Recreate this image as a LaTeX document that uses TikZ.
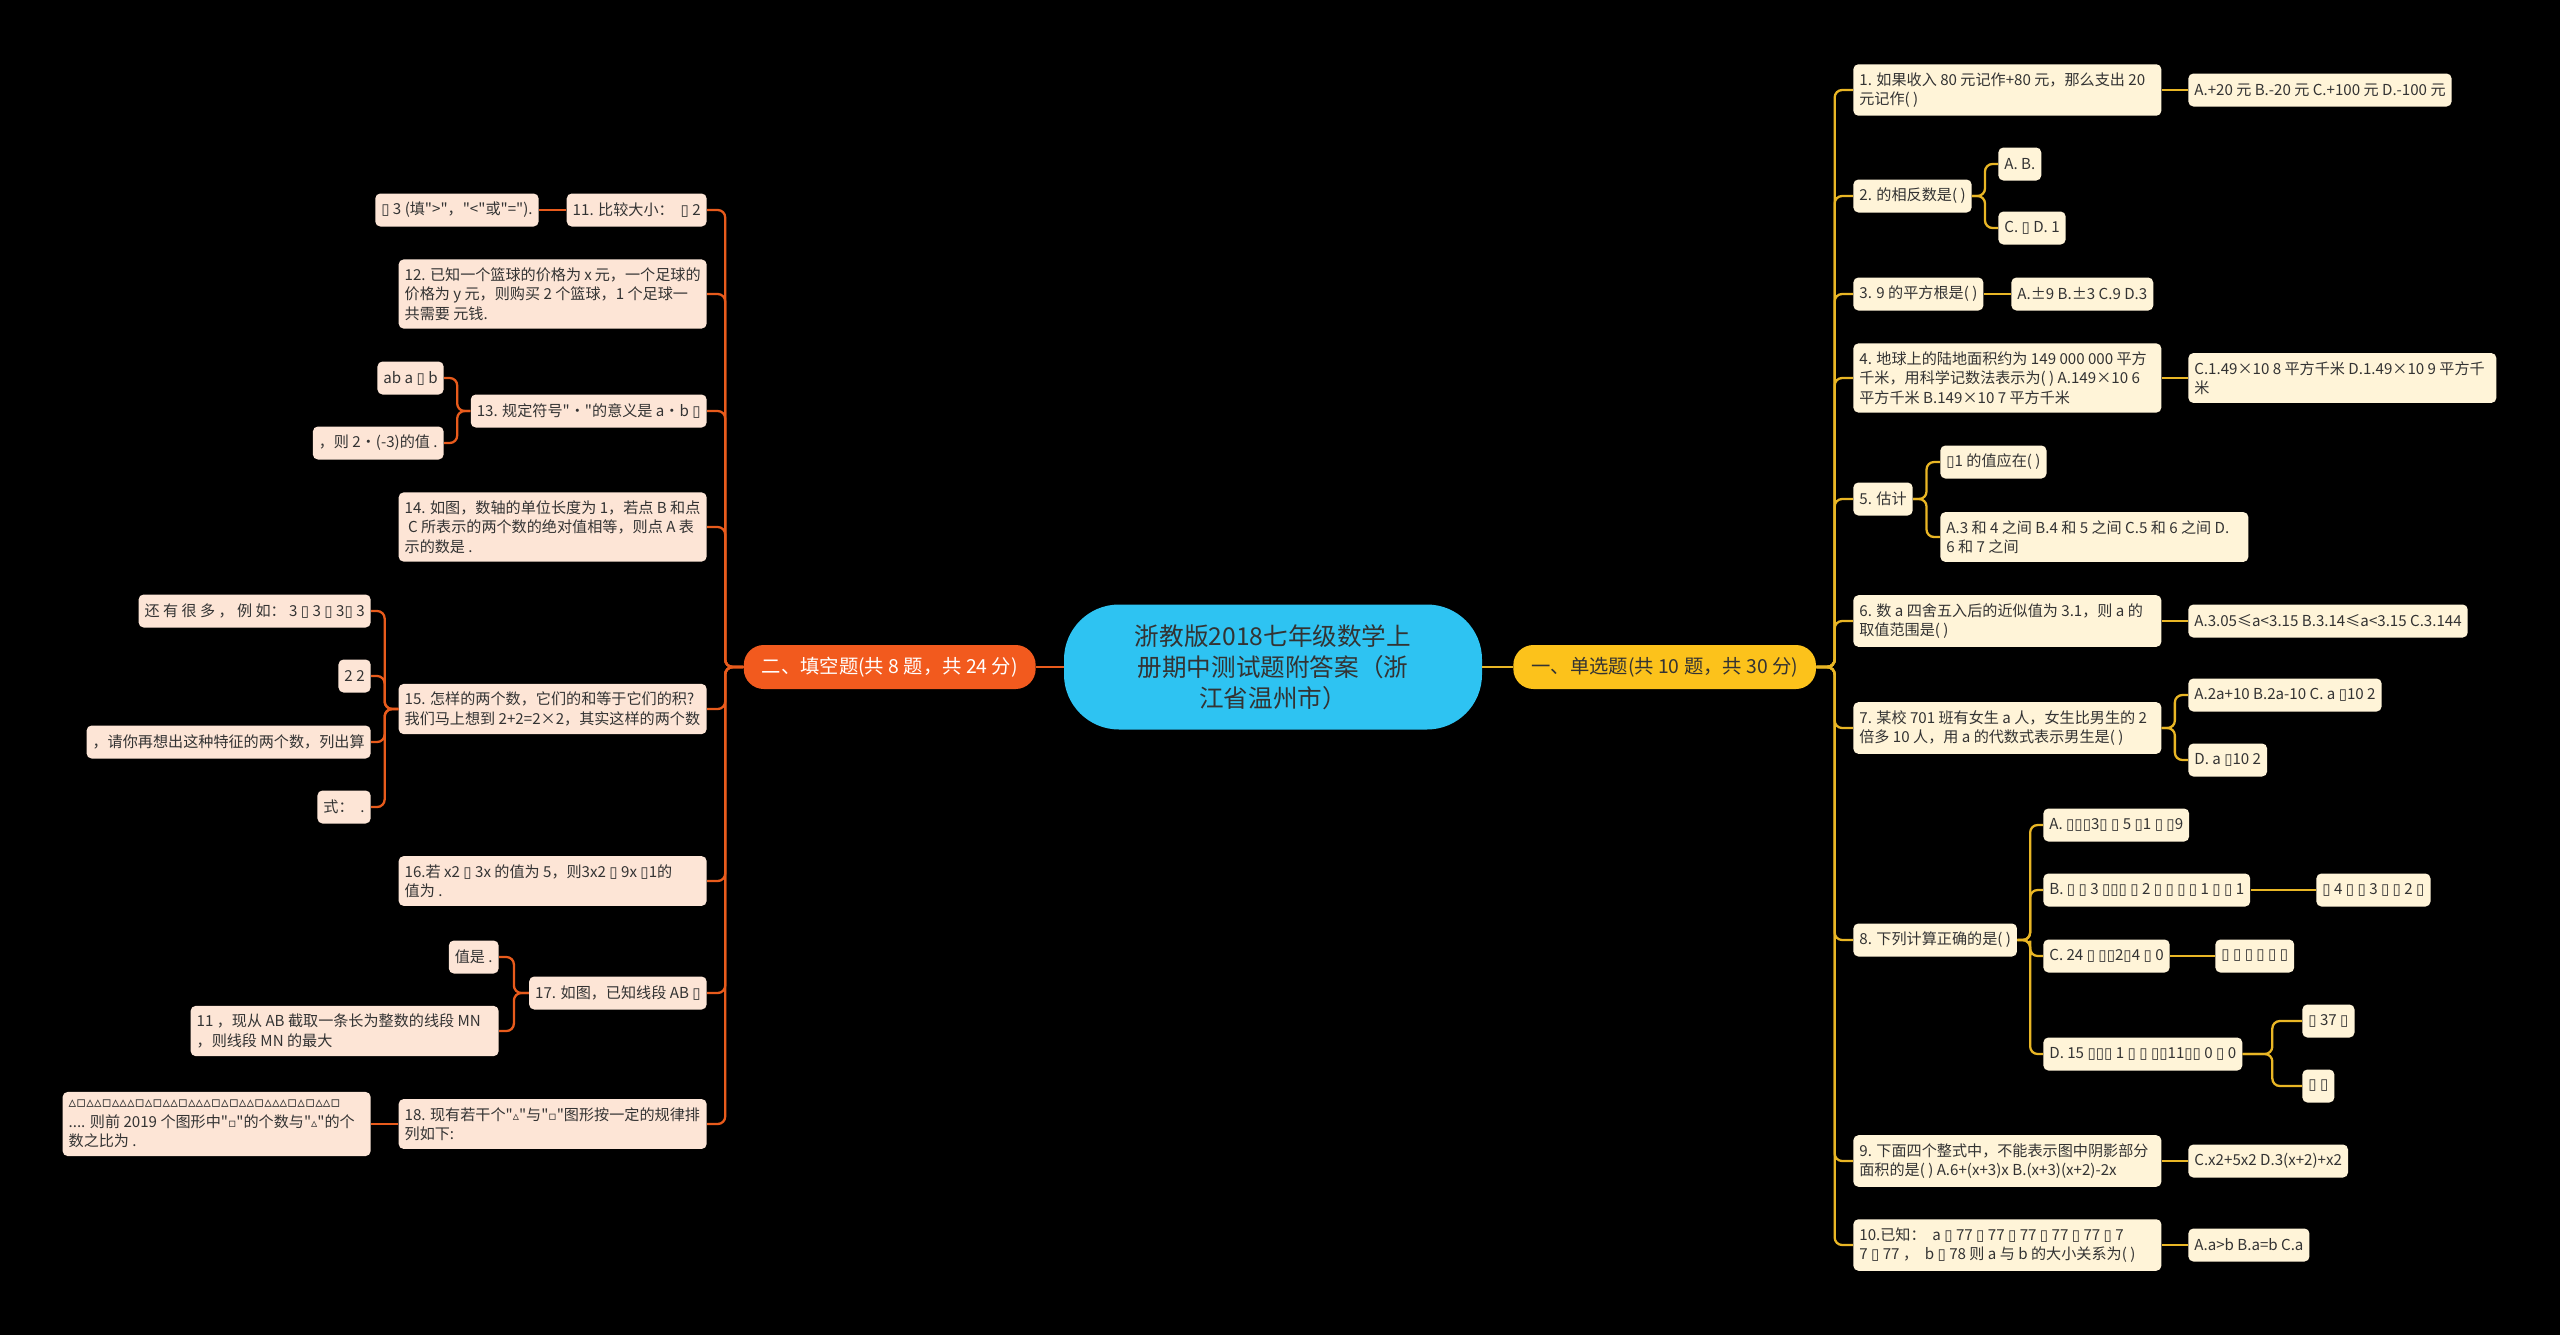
\documentclass[tikz,border=0pt]{standalone}
\usepackage{fontspec}
\setmainfont{Noto Sans CJK SC}[Ligatures=TeXOff]
\newfontfamily\shapefont{DejaVu Sans}[Ligatures=TeXOff]
\usepackage{tikz}
\usetikzlibrary{calc}

\definecolor{rootblue}{HTML}{2EC3F2}
\definecolor{secorange}{HTML}{F25A1E}
\definecolor{secyellow}{HTML}{FCC21B}
\definecolor{leafpeach}{HTML}{FDE5D6}
\definecolor{leafcream}{HTML}{FFF4D8}
\definecolor{lineorange}{HTML}{E85B1C}
\definecolor{lineyellow}{HTML}{E9B625}
\definecolor{inktext}{HTML}{333333}

\newcommand\tofu{{\shapefont\char"25AF}}
\newcommand\shp[1]{{\shapefont\fontsize{7}{8}\selectfont #1}}
\newcommand\shprow[1]{{\shapefont\fontsize{8.6}{10}\selectfont #1}}

\begin{document}
\begin{tikzpicture}[x=0.2mm,y=-0.2mm,
	every node/.style={text=inktext},
	root/.style={rounded corners=11mm,fill=rootblue,minimum width=83.6mm,minimum height=25mm,align=center,font=\fontsize{14}{17.6}\selectfont},
	sec/.style={rounded corners=4mm,minimum height=8.8mm,inner xsep=3.6mm,font=\fontsize{11}{13}\selectfont},
	leaf/.style={rounded corners=1mm,minimum height=6.6mm,inner xsep=1.2mm,inner ysep=1.65mm,align=flush left,font=\fontsize{8.6}{11}\selectfont},
	leafL/.style={leaf,fill=leafpeach,anchor=east},
	leafR/.style={leaf,fill=leafcream,anchor=west},
	wide/.style={text width=59.2mm},
	linkO/.style={draw=lineorange,line width=1.3pt,rounded corners=1.5mm},
	linkY/.style={draw=lineyellow,line width=1.3pt,rounded corners=1.5mm},
	elbow/.style={to path={-| ($(\tikztostart)!.5!(\tikztotarget)$) |- (\tikztotarget)}}
	]
  \fill[black] (0,0) rectangle (2560,1335);

  \node[root] (root) at (1273,667) {浙教版2018七年级数学上\\册期中测试题附答案（浙\\江省温州市）};
  \node[sec,fill=secyellow,anchor=west] (sec1) at (1513,667) {一、单选题(共 10 题，共 30 分)};
  \node[sec,fill=secorange,text=white,anchor=east] (sec2) at (1036,667) {二、填空题(共 8 题，共 24 分)};

  \node[leafR,wide] (q1) at (1853,90) {1. 如果收入 80 元记作+80 元，那么支出 20\\元记作( )};
  \node[leafR] (a1) at (2188,90) {A.+20 元 B.-20 元 C.+100 元 D.-100 元};
  \node[leafR] (q2) at (1853,196) {2. 的相反数是( )};
  \node[leafR] (q2a) at (1998,164) {A. B.};
  \node[leafR] (q2b) at (1998,228) {C. \tofu{} D. 1};
  \node[leafR] (q3) at (1853,294) {3. 9 的平方根是( )};
  \node[leafR] (a3) at (2011,294) {A.±9 B.±3 C.9 D.3};
  \node[leafR,wide] (q4) at (1853,378) {4. 地球上的陆地面积约为 149 000 000 平方\\千米，用科学记数法表示为( ) A.149×10 6\\平方千米 B.149×10 7 平方千米};
  \node[leafR,wide] (a4) at (2188,378) {C.1.49×10 8 平方千米 D.1.49×10 9 平方千\\米};
  \node[leafR] (q5) at (1853,499) {5. 估计};
  \node[leafR] (q5a) at (1940,462) {\tofu1 的值应在( )};
  \node[leafR,wide] (q5b) at (1940,537) {A.3 和 4 之间 B.4 和 5 之间 C.5 和 6 之间 D.\\6 和 7 之间};
  \node[leafR,wide] (q6) at (1853,621) {6. 数 a 四舍五入后的近似值为 3.1，则 a 的\\取值范围是( )};
  \node[leafR] (a6) at (2188,621) {A.3.05≤a<3.15 B.3.14≤a<3.15 C.3.144};
  \node[leafR,wide] (q7) at (1853,728) {7. 某校 701 班有女生 a 人，女生比男生的 2\\倍多 10 人，用 a 的代数式表示男生是( )};
  \node[leafR] (q7a) at (2188,695) {A.2a+10 B.2a-10 C. a \tofu10 2};
  \node[leafR] (q7b) at (2188,760) {D. a \tofu10 2};
  \node[leafR] (q8) at (1853,940) {8. 下列计算正确的是( )};
  \node[leafR] (q8a) at (2043,825) {A. \tofu\tofu\tofu3\tofu{} \tofu{} 5 \tofu1 \tofu{} \tofu9};
  \node[leafR] (q8b) at (2043,890) {B. \tofu{} \tofu{} 3 \tofu\tofu\tofu{} \tofu{} 2 \tofu{} \tofu{} \tofu{} \tofu{} 1 \tofu{} \tofu{} 1};
  \node[leafR] (q8bx) at (2316,890) {\tofu{} 4 \tofu{} \tofu{} 3 \tofu{} \tofu{} 2 \tofu};
  \node[leafR] (q8c) at (2043,956) {C. 24 \tofu{} \tofu\tofu2\tofu4 \tofu{} 0};
  \node[leafR] (q8cx) at (2215,956) {\tofu{} \tofu{} \tofu{} \tofu{} \tofu{} \tofu};
  \node[leafR] (q8d) at (2043,1054) {D. 15 \tofu\tofu\tofu{} 1 \tofu{} \tofu{} \tofu\tofu11\tofu\tofu{} 0 \tofu{} 0};
  \node[leafR] (q8d1) at (2302,1021) {\tofu{} 37 \tofu};
  \node[leafR] (q8d2) at (2302,1086) {\tofu{} \tofu};
  \node[leafR,wide] (q9) at (1853,1161) {9. 下面四个整式中，不能表示图中阴影部分\\面积的是( ) A.6+(x+3)x B.(x+3)(x+2)-2x};
  \node[leafR] (a9) at (2188,1161) {C.x2+5x2 D.3(x+2)+x2};
  \node[leafR,wide] (q10) at (1853,1245) {10.已知：\ \ a \tofu{} 77 \tofu{} 77 \tofu{} 77 \tofu{} 77 \tofu{} 77 \tofu{} 7\\7 \tofu{} 77 ，\ \ b \tofu{} 78 则 a 与 b 的大小关系为( )};
  \node[leafR] (a10) at (2188,1245) {A.a>b B.a=b C.a};

  \node[leafL] (q11) at (707,210) {11. 比较大小：\ \ \tofu{} 2};
  \node[leafL] (q11a) at (539,210) {\tofu{} 3 (填">"，"<"或"=").};
  \node[leafL,wide] (q12) at (707,294) {12. 已知一个篮球的价格为 x 元，一个足球的\\价格为 y 元，则购买 2 个篮球，1 个足球一\\共需要 元钱.};
  \node[leafL] (q13) at (707,411) {13. 规定符号"・"的意义是 a・b \tofu};
  \node[leafL] (q13a) at (444,378) {ab a \tofu{} b};
  \node[leafL] (q13b) at (444,443) {，则 2・(-3)的值 .};
  \node[leafL,wide] (q14) at (707,527) {14. 如图，数轴的单位长度为 1，若点 B 和点\\\ C 所表示的两个数的绝对值相等，则点 A 表\\示的数是 .};
  \node[leafL,wide] (q15) at (707,709) {15. 怎样的两个数，它们的和等于它们的积?\\我们马上想到 2+2=2×2，其实这样的两个数};
  \node[leafL] (q15a) at (371,611) {还 有 很 多 ， 例 如： 3 \tofu{} 3 \tofu{} 3\tofu{} 3};
  \node[leafL] (q15b) at (371,676) {2 2};
  \node[leafL] (q15c) at (371,742) {，请你再想出这种特征的两个数，列出算};
  \node[leafL] (q15d) at (371,807) {式：\ \ .};
  \node[leafL,wide] (q16) at (707,881) {16.若 x2 \tofu{} 3x 的值为 5，则3x2 \tofu{} 9x \tofu1的\\值为 .};
  \node[leafL] (q17) at (707,993) {17. 如图，已知线段 AB \tofu};
  \node[leafL] (q17a) at (499,957) {值是 .};
  \node[leafL,wide] (q17b) at (499,1031) {11 ，现从 AB 截取一条长为整数的线段 MN\\，则线段 MN 的最大};
  \node[leafL,wide] (q18) at (707,1124) {18. 现有若干个"\shp{▵}"与"\shp{▫}"图形按一定的规律排\\列如下:};
  \node[leafL,wide] (q18a) at (371,1124) {\shprow{▵▫▵▵▫▵▵▵▫▵▫▵▵▫▵▵▵▫▵▫▵▵▫▵▵▵▫▵▫▵▵▫}\\.... 则前 2019 个图形中"\shp{▫}"的个数与"\shp{▵}"的个\\数之比为 .};

  \draw[linkY] (root) -- (sec1);
  \draw[linkO] (root) -- (sec2);

  \draw[linkY] (sec1.east) to[elbow] (q1.west);
  \draw[linkY] (sec1.east) to[elbow] (q2.west);
  \draw[linkY] (sec1.east) to[elbow] (q3.west);
  \draw[linkY] (sec1.east) to[elbow] (q4.west);
  \draw[linkY] (sec1.east) to[elbow] (q5.west);
  \draw[linkY] (sec1.east) to[elbow] (q6.west);
  \draw[linkY] (sec1.east) to[elbow] (q7.west);
  \draw[linkY] (sec1.east) to[elbow] (q8.west);
  \draw[linkY] (sec1.east) to[elbow] (q9.west);
  \draw[linkY] (sec1.east) to[elbow] (q10.west);
  \draw[linkY] (q1) -- (a1);
  \draw[linkY] (q2.east) to[elbow] (q2a.west);
  \draw[linkY] (q2.east) to[elbow] (q2b.west);
  \draw[linkY] (q3) -- (a3);
  \draw[linkY] (q4) -- (a4);
  \draw[linkY] (q5.east) to[elbow] (q5a.west);
  \draw[linkY] (q5.east) to[elbow] (q5b.west);
  \draw[linkY] (q6) -- (a6);
  \draw[linkY] (q7.east) to[elbow] (q7a.west);
  \draw[linkY] (q7.east) to[elbow] (q7b.west);
  \draw[linkY] (q8.east) to[elbow] (q8a.west);
  \draw[linkY] (q8.east) to[elbow] (q8b.west);
  \draw[linkY] (q8.east) to[elbow] (q8c.west);
  \draw[linkY] (q8.east) to[elbow] (q8d.west);
  \draw[linkY] (q8b) -- (q8bx);
  \draw[linkY] (q8c) -- (q8cx);
  \draw[linkY] (q8d.east) to[elbow] (q8d1.west);
  \draw[linkY] (q8d.east) to[elbow] (q8d2.west);
  \draw[linkY] (q9) -- (a9);
  \draw[linkY] (q10) -- (a10);

  \draw[linkO] (sec2.west) to[elbow] (q11.east);
  \draw[linkO] (sec2.west) to[elbow] (q12.east);
  \draw[linkO] (sec2.west) to[elbow] (q13.east);
  \draw[linkO] (sec2.west) to[elbow] (q14.east);
  \draw[linkO] (sec2.west) to[elbow] (q15.east);
  \draw[linkO] (sec2.west) to[elbow] (q16.east);
  \draw[linkO] (sec2.west) to[elbow] (q17.east);
  \draw[linkO] (sec2.west) to[elbow] (q18.east);
  \draw[linkO] (q11) -- (q11a);
  \draw[linkO] (q13.west) to[elbow] (q13a.east);
  \draw[linkO] (q13.west) to[elbow] (q13b.east);
  \draw[linkO] (q15.west) to[elbow] (q15a.east);
  \draw[linkO] (q15.west) to[elbow] (q15b.east);
  \draw[linkO] (q15.west) to[elbow] (q15c.east);
  \draw[linkO] (q15.west) to[elbow] (q15d.east);
  \draw[linkO] (q17.west) to[elbow] (q17a.east);
  \draw[linkO] (q17.west) to[elbow] (q17b.east);
  \draw[linkO] (q18) -- (q18a);
\end{tikzpicture}
\end{document}
